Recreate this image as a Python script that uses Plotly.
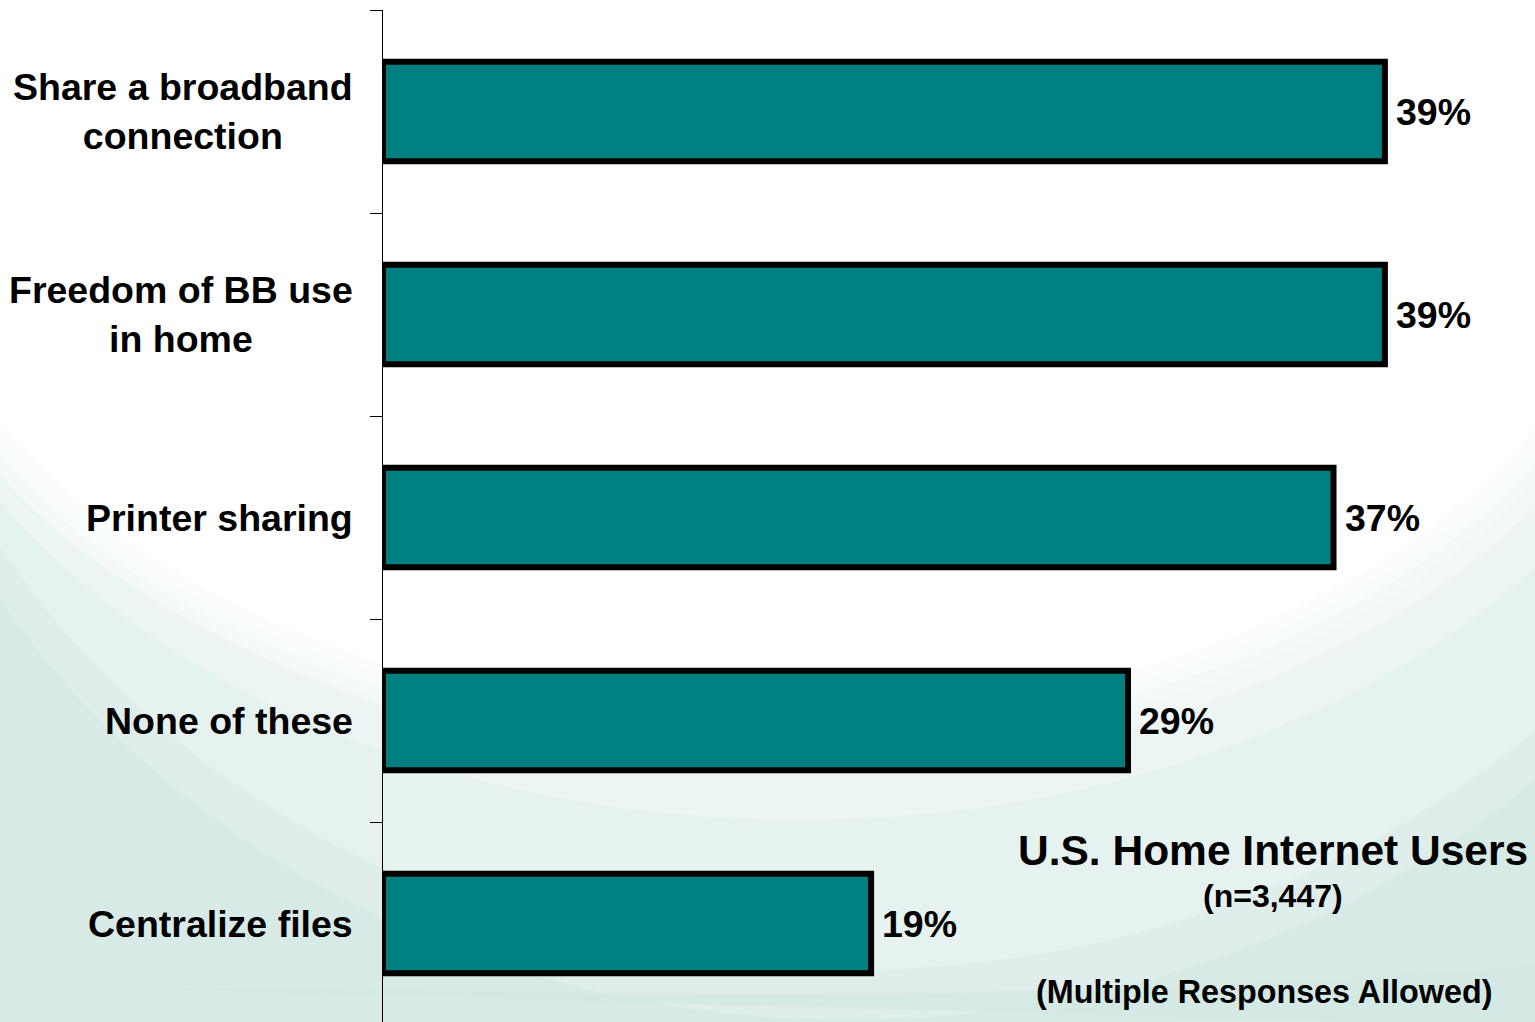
import plotly.graph_objects as go

# Survey results: reasons for having a home network
categories = [
    "Share a broadband<br>connection",
    "Freedom of BB use<br>in home",
    "Printer sharing",
    "None of these",
    "Centralize files",
]
values = [39, 39, 37, 29, 19]
value_labels = ["39%", "39%", "37%", "29%", "19%"]

title_text = "U.S. Home Internet Users"
sample_text = "(n=3,447)"
note_text = "(Multiple Responses Allowed)"

W, H = 1535, 1022
ML, MR, MT, MB = 383, 0, 10, 0
PLOT_W = W - ML - MR
PLOT_H = H - MT - MB
ROW_PX = 203          # pixel height of one category row
PX_PER_PCT = 25.69    # pixels per percentage point

FONT = "Arial, 'Liberation Sans', sans-serif"
TEAL = "#008080"


def px_x(px):
    """Canvas pixel x -> paper x."""
    return (px - ML) / PLOT_W


def px_y(py):
    """Canvas pixel y (from top) -> paper y."""
    return (H - MB - py) / PLOT_H


def path_from_px(cmds):
    """Build an SVG path in paper units from (cmd, [(px, py), ...]) pairs."""
    parts = []
    for cmd, pts in cmds:
        coords = " ".join(f"{px_x(x):.5f},{px_y(y):.5f}" for x, y in pts)
        parts.append(f"{cmd} {coords}".strip())
    return " ".join(parts) + " Z"


def ellipse(cx, cy, rx, ry, color):
    return dict(type="circle", xref="paper", yref="paper", layer="below",
                x0=px_x(cx - rx), x1=px_x(cx + rx),
                y0=px_y(cy + ry), y1=px_y(cy - ry),
                fillcolor=color, line_width=0)


fig = go.Figure()

fig.add_trace(go.Bar(
    y=categories,
    x=values,
    orientation="h",
    width=0.49,
    marker=dict(color=TEAL, line=dict(color="black", width=6)),
    hoverinfo="skip",
    showlegend=False,
))

annotations = []
# category labels, centred block right-aligned against the axis
for cat in categories:
    annotations.append(dict(
        x=0, xref="paper", y=cat, yref="y",
        text=f"<b>{cat}</b>", showarrow=False,
        xanchor="right", yanchor="middle", align="center",
        xshift=-28,
        font=dict(family=FONT, size=37.5, color="black"),
    ))
# value labels just past each bar end
for cat, v, lab in zip(categories, values, value_labels):
    annotations.append(dict(
        x=v, xref="x", y=cat, yref="y",
        text=f"<b>{lab}</b>", showarrow=False,
        xanchor="left", yanchor="middle", xshift=9,
        font=dict(family=FONT, size=37.5, color="black"),
    ))
# base description
annotations += [
    dict(x=px_x(1273), y=px_y(850), xref="paper", yref="paper",
         text=f"<b>{title_text}</b>", showarrow=False,
         xanchor="center", yanchor="middle",
         font=dict(family=FONT, size=42.5, color="black")),
    dict(x=px_x(1273), y=px_y(896), xref="paper", yref="paper",
         text=f"<b>{sample_text}</b>", showarrow=False,
         xanchor="center", yanchor="middle",
         font=dict(family=FONT, size=32, color="black")),
    dict(x=px_x(1264), y=px_y(992), xref="paper", yref="paper",
         text=f"<b>{note_text}</b>", showarrow=False,
         xanchor="center", yanchor="middle",
         font=dict(family=FONT, size=32.3, color="black")),
]

# backdrop: teal that lightens in nested bands toward a white dome at the top
shapes = [
    dict(type="rect", xref="paper", yref="paper", layer="below",
         x0=px_x(-5), x1=px_x(W + 5), y0=px_y(H + 5), y1=px_y(-5),
         fillcolor="#d7eae6", line_width=0),
    ellipse(850, 150, 993, 870, "#dfeeeb"),
    ellipse(850, 140, 975, 830, "#e5f2ef"),
    ellipse(800, 170, 930, 650, "#ecf5f3"),
    ellipse(790, 190, 890, 580, "#f1f8f6"),
]
# white dome with a softened rim
for grow, col in [(36, "#f5faf9"), (24, "#f8fcfb"), (12, "#fbfdfd"), (0, "#ffffff")]:
    shapes.append(ellipse(770, 200, 850 + grow, 520 + grow, col))
# darker swoosh along the bottom edge
shapes.append(dict(
    type="path", xref="paper", yref="paper", layer="below",
    path=path_from_px([("M", [(-5, 985)]),
                       ("C", [(500, 990), (1000, 1010), (W + 5, 965)]),
                       ("L", [(W + 5, H + 5), (-5, H + 5)])]),
    fillcolor="#d3e8e3", line_width=0, opacity=0.8))

fig.update_layout(
    width=W, height=H,
    margin=dict(l=ML, r=MR, t=MT, b=MB, pad=0),
    paper_bgcolor="white",
    plot_bgcolor="rgba(0,0,0,0)",
    xaxis=dict(range=[0, PLOT_W / PX_PER_PCT], visible=False, fixedrange=True),
    yaxis=dict(
        type="category",
        categoryorder="array", categoryarray=categories,
        range=[-0.5 + PLOT_H / ROW_PX, -0.5],
        showticklabels=False, tickson="boundaries",
        ticks="outside", ticklen=12, tickcolor="black", tickwidth=1,
        showline=True, linecolor="black", linewidth=1,
        showgrid=False, zeroline=False, fixedrange=True,
    ),
    annotations=annotations,
    shapes=shapes,
    font=dict(family=FONT),
)

fig.write_html("out.html", config={"displayModeBar": False})
